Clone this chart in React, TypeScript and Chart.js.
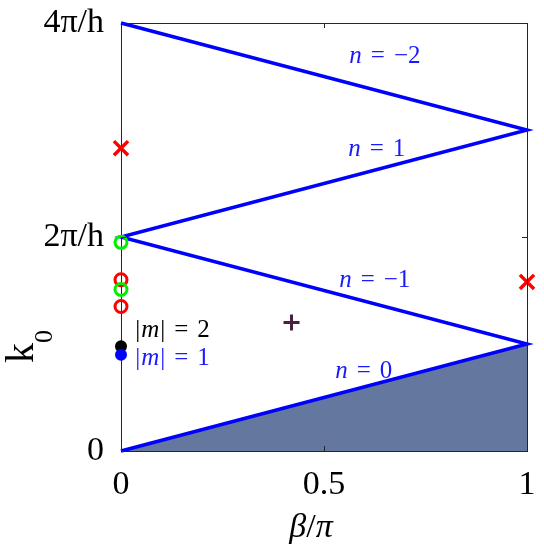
import { useEffect, useRef } from 'react';
import { Chart, registerables } from 'chart.js';

Chart.register(...registerables);

// Dispersion lines (beta/pi, k0 in units of pi/h * 2 -> tick "2π/h" = 2)
const zigzagX = [0, 1, 0, 1, 0];
const zigzagY = [4, 3, 2, 1, 0];
const lightLineX = [0, 1];
const lightLineY = [0, 1];

// Markers
const redCrossX = [0, 1];
const redCrossY = [2.83, 1.58];
const greenCircleX = [0, 0];
const greenCircleY = [1.95, 1.51];
const redCircleX = [0, 0];
const redCircleY = [1.6, 1.35];
const blackDotX = [0];
const blackDotY = [0.98];
const blueDotX = [0];
const blueDotY = [0.9];
const plusX = [0.42];
const plusY = [1.2];

// Ticks
const xTickValues = [0, 0.5, 1];
const xTickLabels = ['0', '0.5', '1'];
const yTickValues = [0, 2, 4];
const yTickLabels = ['0', '2π/h', '4π/h'];

// Annotations
const nLabelValues = ['−2', '1', '−1', '0'];
const nLabelX = [0.65, 0.63, 0.625, 0.598];
const nLabelY = [3.7, 2.835, 1.61, 0.758];
const mLabelValues = ['2', '1'];
const mLabelColors = ['#000000', '#1a1aff'];
const mLabelX = [0.035, 0.035];
const mLabelY = [1.14, 0.88];

const pts = (xs: number[], ys: number[]) => xs.map((x, i) => ({ x, y: ys[i] }));

const SERIF = '"Liberation Serif", "Times New Roman", serif';

function drawPieces(ctx: CanvasRenderingContext2D, pieces: { t: string; it?: boolean; gap?: number }[], x: number, y: number, size: number, align: 'left' | 'center') {
  const widths = pieces.map((p) => {
    ctx.font = `${p.it ? 'italic ' : ''}${size}px ${SERIF}`;
    return ctx.measureText(p.t).width;
  });
  const total = widths.reduce((a, w, i) => a + w + (pieces[i].gap || 0), 0);
  let cx = align === 'center' ? x - total / 2 : x;
  ctx.textAlign = 'left';
  ctx.textBaseline = 'alphabetic';
  pieces.forEach((p, i) => {
    ctx.font = `${p.it ? 'italic ' : ''}${size}px ${SERIF}`;
    ctx.fillText(p.t, cx, y);
    cx += widths[i] + (p.gap || 0);
  });
}

const decorPlugin = {
  id: 'decor',
  afterDatasetsDraw(chart: any) {
    const { ctx, chartArea: a, scales } = chart;
    const xs = scales.x;
    const ys = scales.y;
    ctx.save();
    // Box
    ctx.strokeStyle = '#262626';
    ctx.lineWidth = 1;
    ctx.beginPath();
    ctx.moveTo(a.left, a.top + 0.5);
    ctx.lineTo(a.right + 0.5, a.top + 0.5);
    ctx.lineTo(a.right + 0.5, a.bottom);
    ctx.stroke();
    // Inside ticks
    const tl = 5;
    ctx.beginPath();
    xTickValues.forEach((v) => {
      const px = Math.round(xs.getPixelForValue(v)) + 0.5;
      ctx.moveTo(px, a.bottom);
      ctx.lineTo(px, a.bottom - tl);
      ctx.moveTo(px, a.top);
      ctx.lineTo(px, a.top + tl);
    });
    yTickValues.forEach((v) => {
      const py = Math.round(ys.getPixelForValue(v)) + 0.5;
      ctx.moveTo(a.left, py);
      ctx.lineTo(a.left + tl, py);
      ctx.moveTo(a.right, py);
      ctx.lineTo(a.right - tl, py);
    });
    ctx.stroke();

    // n labels
    ctx.fillStyle = '#1a1aff';
    nLabelValues.forEach((val, i) => {
      const px = xs.getPixelForValue(nLabelX[i]);
      const py = ys.getPixelForValue(nLabelY[i]);
      drawPieces(ctx, [{ t: 'n', it: true, gap: 9 }, { t: '=', gap: 9 }, { t: val }], px, py + 8, 25, 'center');
    });
    // |m| labels
    mLabelValues.forEach((val, i) => {
      ctx.fillStyle = mLabelColors[i];
      const px = xs.getPixelForValue(mLabelX[i]);
      const py = ys.getPixelForValue(mLabelY[i]);
      drawPieces(ctx, [{ t: '|', gap: 1 }, { t: 'm', it: true, gap: 1 }, { t: '|', gap: 9 }, { t: '=', gap: 9 }, { t: val }], px, py + 8, 25, 'left');
    });

    // Axis titles
    ctx.fillStyle = '#000';
    ctx.textBaseline = 'alphabetic';
    ctx.font = `italic 34px ${SERIF}`;
    const bw = ctx.measureText('β').width;
    ctx.font = `34px ${SERIF}`;
    const sw = ctx.measureText('/').width;
    ctx.font = `italic 34px ${SERIF}`;
    const pw = ctx.measureText('π').width;
    const tot = bw + sw + pw;
    let tx = 311 - tot / 2;
    ctx.textAlign = 'left';
    ctx.font = `italic 34px ${SERIF}`;
    ctx.fillText('β', tx, 537);
    tx += bw;
    ctx.font = `34px ${SERIF}`;
    ctx.fillText('/', tx, 537);
    tx += sw;
    ctx.font = `italic 34px ${SERIF}`;
    ctx.fillText('π', tx, 537);

    ctx.save();
    ctx.translate(33, 363);
    ctx.rotate(-Math.PI / 2);
    ctx.textAlign = 'left';
    ctx.font = `40px ${SERIF}`;
    ctx.fillText('k', 0, 0);
    const kw = ctx.measureText('k').width;
    ctx.font = `26px ${SERIF}`;
    ctx.fillText('0', kw, 19);
    ctx.restore();

    ctx.restore();
  },
};

export default function App() {
  const ref = useRef<HTMLCanvasElement>(null);
  useEffect(() => {
    if (!ref.current) return;
    const chart = new Chart(ref.current, {
      type: 'line',
      data: {
        datasets: [
          {
            data: pts(lightLineX, lightLineY),
            fill: 'origin',
            backgroundColor: '#63779f',
            borderColor: '#0000ff',
            borderWidth: 2,
            pointRadius: 0,
            order: 10,
          } as any,
          {
            data: pts(zigzagX, zigzagY),
            borderColor: '#0000ff',
            borderWidth: 3.5,
            pointRadius: 0,
            fill: false,
            order: 5,
          },
          {
            data: pts(redCrossX, redCrossY),
            showLine: false,
            pointStyle: 'crossRot',
            pointRadius: 10,
            borderColor: '#ff0000',
            pointBorderWidth: 3.5,
            order: 1,
          },
          {
            data: pts(greenCircleX, greenCircleY),
            showLine: false,
            pointStyle: 'circle',
            pointRadius: 6,
            borderColor: '#00ee00',
            backgroundColor: 'rgba(0,0,0,0)',
            pointBorderWidth: 3,
            order: 1,
          },
          {
            data: pts(redCircleX, redCircleY),
            showLine: false,
            pointStyle: 'circle',
            pointRadius: 6,
            borderColor: '#ff0000',
            backgroundColor: 'rgba(0,0,0,0)',
            pointBorderWidth: 3,
            order: 2,
          },
          {
            data: pts(blackDotX, blackDotY),
            showLine: false,
            pointStyle: 'circle',
            pointRadius: 6,
            borderColor: '#000000',
            backgroundColor: '#000000',
            pointBorderWidth: 0,
            order: 2,
          },
          {
            data: pts(blueDotX, blueDotY),
            showLine: false,
            pointStyle: 'circle',
            pointRadius: 6,
            borderColor: '#0000ff',
            backgroundColor: '#0000ff',
            pointBorderWidth: 0,
            order: 1,
          },
          {
            data: pts(plusX, plusY),
            showLine: false,
            pointStyle: 'cross',
            pointRadius: 8,
            borderColor: '#4a1f40',
            pointBorderWidth: 3,
            order: 1,
          },
        ],
      },
      options: {
        animation: false,
        responsive: false,
        clip: false as any,
        layout: { padding: { left: 0, right: 17, top: 23, bottom: 0 } },
        plugins: { legend: { display: false }, tooltip: { enabled: false } },
        elements: { line: { tension: 0 } },
        scales: {
          x: {
            type: 'linear',
            min: 0,
            max: 1,
            afterFit: (s: any) => {
              s.height = 99;
              s.paddingLeft = 0;
              s.paddingRight = 0;
            },
            afterBuildTicks: (s: any) => {
              s.ticks = xTickValues.map((v) => ({ value: v }));
            },
            grid: { display: false, drawTicks: false },
            border: { display: true, color: '#262626', width: 1 },
            ticks: {
              font: { family: SERIF, size: 34 },
              color: '#000',
              padding: 14,
              maxRotation: 0,
              autoSkip: false,
              callback: (v: any) => xTickLabels[xTickValues.indexOf(Number(v))],
            },
          },
          y: {
            type: 'linear',
            min: 0,
            max: 4,
            afterFit: (s: any) => {
              s.width = 121;
              s.paddingTop = 0;
              s.paddingBottom = 0;
            },
            afterBuildTicks: (s: any) => {
              s.ticks = yTickValues.map((v) => ({ value: v }));
            },
            grid: { display: false, drawTicks: false },
            border: { display: true, color: '#262626', width: 1 },
            ticks: {
              font: { family: SERIF, size: 34, lineHeight: 1 },
              color: '#000',
              padding: 17,
              autoSkip: false,
              callback: (v: any) => yTickLabels[yTickValues.indexOf(Number(v))],
            },
          },
        },
      },
      plugins: [decorPlugin],
    });
    return () => chart.destroy();
  }, []);
  return (
    <div style={{ position: 'fixed', left: 0, top: 0, width: 544, height: 550, background: '#fff' }}>
      <canvas ref={ref} width={544} height={550} style={{ display: 'block', width: 544, height: 550 }} />
    </div>
  );
}
